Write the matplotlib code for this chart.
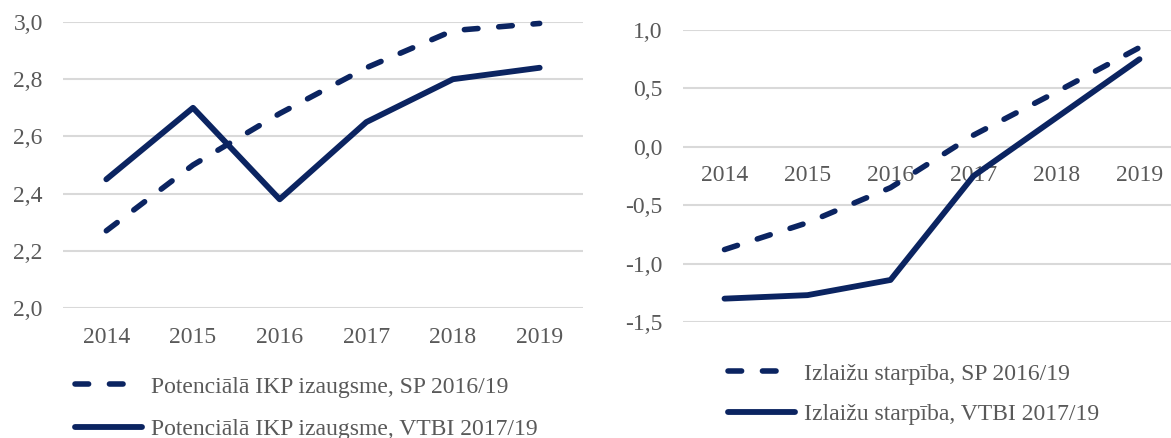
import matplotlib
matplotlib.use('Agg')
import matplotlib.pyplot as plt
from matplotlib.ticker import FuncFormatter, MultipleLocator

# data
years = ['2014', '2015', '2016', '2017', '2018', '2019']
pot_sp = [2.27, 2.50, 2.68, 2.84, 2.97, 2.995]
pot_vtbi = [2.45, 2.70, 2.38, 2.65, 2.80, 2.84]
gap_sp = [-0.88, -0.65, -0.35, 0.10, 0.47, 0.85]
gap_vtbi = [-1.30, -1.27, -1.14, -0.25, 0.25, 0.75]

lbl_pot_sp = 'Potenciālā IKP izaugsme, SP 2016/19'
lbl_pot_vtbi = 'Potenciālā IKP izaugsme, VTBI 2017/19'
lbl_gap_sp = 'Izlaižu starpība, SP 2016/19'
lbl_gap_vtbi = 'Izlaižu starpība, VTBI 2017/19'

navy = '#0b2461'
txt = '#595959'
grid = '#d9d9d9'
dash = (0, (2.45, 3.75))

plt.rcParams['font.family'] = ['Liberation Serif', 'DejaVu Serif']
plt.rcParams['font.size'] = 17

W, H = 1171, 438
fig = plt.figure(figsize=(W / 100, H / 100), dpi=100)

comma = FuncFormatter(lambda v, p: ('%.1f' % v).replace('.', ','))
x = range(len(years))


def style(ax):
    for s in ax.spines.values():
        s.set_visible(False)
    ax.yaxis.grid(True, color=grid, lw=1.5)
    ax.set_axisbelow(True)
    ax.tick_params(length=0, colors=txt, labelsize=17)
    ax.yaxis.set_major_formatter(comma)
    ax.set_xticks(list(x))
    ax.set_xticklabels(years)


def draw(ax, sp, vtbi, l_sp, l_vtbi):
    ax.plot(x, sp, color=navy, lw=4.0, ls=dash, dash_capstyle='round',
            label=l_sp, clip_on=False)
    ax.plot(x, vtbi, color=navy, lw=4.2, solid_capstyle='round',
            label=l_vtbi, clip_on=False)


def legend(ax, xy, spacing):
    leg = ax.legend(loc='upper left', bbox_to_anchor=(xy[0] / W, (H - xy[1]) / H),
                    bbox_transform=fig.transFigure, frameon=False, fontsize=17,
                    handlelength=2.85, handletextpad=0.38, labelspacing=spacing,
                    borderpad=0, borderaxespad=0)
    for t in leg.get_texts():
        t.set_color(txt)


# left panel
ax1 = fig.add_axes([63 / W, (H - 308) / H, 520 / W, 286 / H])
draw(ax1, pot_sp, pot_vtbi, lbl_pot_sp, lbl_pot_vtbi)
ax1.set_xlim(-0.5, 5.5)
ax1.set_ylim(2.0, 3.0)
ax1.yaxis.set_major_locator(MultipleLocator(0.2))
style(ax1)
ax1.tick_params(axis='x', pad=14)
ax1.tick_params(axis='y', pad=14.5)
legend(ax1, (75, 376), 0.9)

# right panel
ax2 = fig.add_axes([683 / W, (H - 322) / H, 488 / W, 292 / H])
draw(ax2, gap_sp, gap_vtbi, lbl_gap_sp, lbl_gap_vtbi)
ax2.set_xlim(-0.5, -0.5 + 488 / 83)
ax2.set_ylim(-1.5, 1.0)
ax2.yaxis.set_major_locator(MultipleLocator(0.5))
style(ax2)
ax2.spines['bottom'].set_position(('data', 0))
ax2.tick_params(axis='x', pad=13)
ax2.tick_params(axis='y', pad=15)
legend(ax2, (728, 363), 0.8)

fig.savefig('out.png', dpi=100)
